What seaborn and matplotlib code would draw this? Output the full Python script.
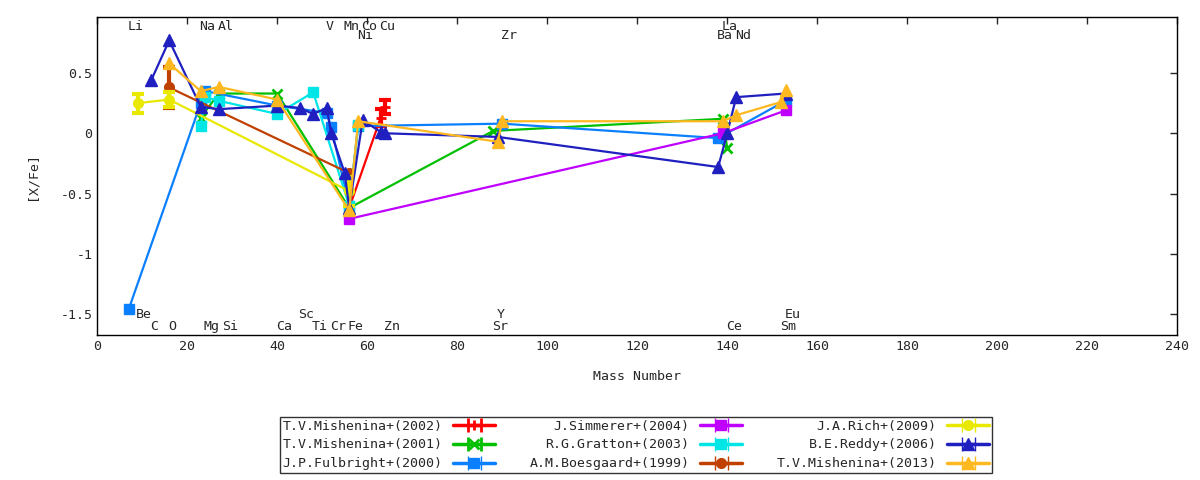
import numpy as np
import pandas as pd
import matplotlib
matplotlib.use('Agg')
import matplotlib.pyplot as plt
import seaborn as sns

# data: mass number, [X/Fe], error
mish02_mass = [56, 63, 64]
mish02_val = [-0.62, 0.13, 0.22]
mish02_err = [0.0, 0.07, 0.06]

mish01_mass = [23, 27, 40, 56, 88, 139, 140]
mish01_val = [0.13, 0.33, 0.33, -0.62, 0.02, 0.12, -0.12]
mish01_err = [0, 0, 0, 0, 0, 0, 0]

fulb_mass = [7, 23, 24, 40, 51, 52, 56, 58, 90, 138, 153]
fulb_val = [-1.46, 0.25, 0.35, 0.23, 0.17, 0.05, -0.60, 0.06, 0.08, -0.04, 0.27]
fulb_err = [0] * 11

simm_mass = [56, 139, 153]
simm_val = [-0.71, 0.0, 0.19]
simm_err = [0, 0, 0]

grat_mass = [23, 24, 27, 40, 48, 56, 58]
grat_val = [0.06, 0.30, 0.27, 0.16, 0.34, -0.60, 0.07]
grat_err = [0, 0, 0, 0, 0, 0, 0]

boes_mass = [16, 56]
boes_val = [0.38, -0.33]
boes_err = [0.17, 0]

rich_mass = [9, 16, 56]
rich_val = [0.25, 0.28, -0.48]
rich_err = [0.08, 0.06, 0.12]

reddy_mass = [12, 16, 23, 27, 40, 45, 48, 51, 52, 55, 56, 59, 63, 64, 89, 138, 140, 142, 153]
reddy_val = [0.44, 0.77, 0.22, 0.20, 0.23, 0.21, 0.16, 0.21, 0.0, -0.33, -0.62,
             0.11, 0.01, 0.0, -0.03, -0.28, 0.0, 0.30, 0.33]
reddy_err = [0] * 19

mish13_mass = [16, 23, 27, 40, 56, 58, 89, 90, 139, 142, 152, 153]
mish13_val = [0.58, 0.35, 0.385, 0.28, -0.64, 0.10, -0.07, 0.10, 0.10, 0.15, 0.26, 0.36]
mish13_err = [0] * 12

series = [
    ('T.V.Mishenina+(2002)', mish02_mass, mish02_val, mish02_err, '#ff0000', '+'),
    ('T.V.Mishenina+(2001)', mish01_mass, mish01_val, mish01_err, '#00c000', 'x'),
    ('J.P.Fulbright+(2000)', fulb_mass, fulb_val, fulb_err, '#0a80ff', 's'),
    ('J.Simmerer+(2004)', simm_mass, simm_val, simm_err, '#c000ff', 's'),
    ('R.G.Gratton+(2003)', grat_mass, grat_val, grat_err, '#00e5e5', 's'),
    ('A.M.Boesgaard+(1999)', boes_mass, boes_val, boes_err, '#c04000', 'o'),
    ('J.A.Rich+(2009)', rich_mass, rich_val, rich_err, '#e8e800', 'o'),
    ('B.E.Reddy+(2006)', reddy_mass, reddy_val, reddy_err, '#2020c0', '^'),
    ('T.V.Mishenina+(2013)', mish13_mass, mish13_val, mish13_err, '#ffb820', '^'),
]

# element labels at their mass numbers, four rows
top1 = [('Li', 7), ('Na', 23), ('Al', 27), ('V', 51), ('Mn', 55), ('Co', 59), ('Cu', 63), ('La', 139)]
top2 = [('Ni', 58), ('Zr', 90), ('Ba', 138), ('Nd', 142)]
bot1 = [('Be', 9), ('Sc', 45), ('Y', 89), ('Eu', 153)]
bot2 = [('C', 12), ('O', 16), ('Mg', 24), ('Si', 28), ('Ca', 40), ('Ti', 48), ('Cr', 52),
        ('Fe', 56), ('Zn', 64), ('Sr', 88), ('Ce', 140), ('Sm', 152)]

sns.set_style('white')
plt.rcParams['font.family'] = ['DejaVu Sans Mono']
plt.rcParams['xtick.direction'] = 'in'
plt.rcParams['ytick.direction'] = 'in'

fs = 9.5
fig = plt.figure(figsize=(12, 4.8), dpi=100)
ax = fig.add_axes([0.081, 0.302, 0.9, 0.6626])

handles = []
for name, m, v, e, col, mk in series:
    df = pd.DataFrame({'mass': m, 'val': v})
    ms = 9 if mk == '^' else 7
    mew = 2 if mk in ('+', 'x') else 1
    sns.lineplot(data=df, x='mass', y='val', ax=ax, color=col, marker=mk, markersize=ms,
                 markeredgecolor=col, markeredgewidth=mew, linewidth=1.6,
                 estimator=None, sort=False, legend=False)
    e = np.array(e, dtype=float)
    if e.any():
        idx = e > 0
        ax.errorbar(np.array(m)[idx], np.array(v)[idx], yerr=e[idx], fmt='none',
                    ecolor=col, elinewidth=3, capsize=4, capthick=3)
    # legend sample in gnuplot style: line with end caps and the point in the middle
    h = ax.errorbar([np.nan], [np.nan], xerr=[1], color=col, marker=mk, markersize=ms,
                    markeredgecolor=col, markeredgewidth=mew, linewidth=2.5,
                    elinewidth=2.5, capsize=5, capthick=2.5, label=name)
    handles.append(h)

for rows, yy in ((top1, 0.89), (top2, 0.81), (bot1, -1.50), (bot2, -1.60)):
    for el, mass in rows:
        ax.text(mass - 0.3, yy, el, ha='left', va='center', fontsize=fs)

ax.set_xlim(0, 240)
ax.set_ylim(-1.674, 0.965)
ax.set_xticks(np.arange(0, 241, 20))
ax.set_yticks([-1.5, -1, -0.5, 0, 0.5])
ax.set_yticklabels(['-1.5', '-1', '-0.5', '0', '0.5'])
ax.tick_params(top=True, right=True, length=5, width=1, labelsize=fs)
for s in ax.spines.values():
    s.set_color('black')
    s.set_linewidth(1)
ax.set_xlabel('Mass Number', fontsize=fs, labelpad=12)
ax.set_ylabel('[X/Fe]', fontsize=fs, labelpad=16)

leg = fig.legend(handles=handles, loc='center', bbox_to_anchor=(0.53, 0.073), ncol=3,
                 markerfirst=False, frameon=True, fancybox=False, fontsize=fs,
                 handlelength=3.2, columnspacing=2.6, labelspacing=0.45,
                 borderpad=0.2, handletextpad=0.8)
leg.get_frame().set_edgecolor('black')
leg.get_frame().set_linewidth(1)

fig.savefig('out.png', dpi=100)
